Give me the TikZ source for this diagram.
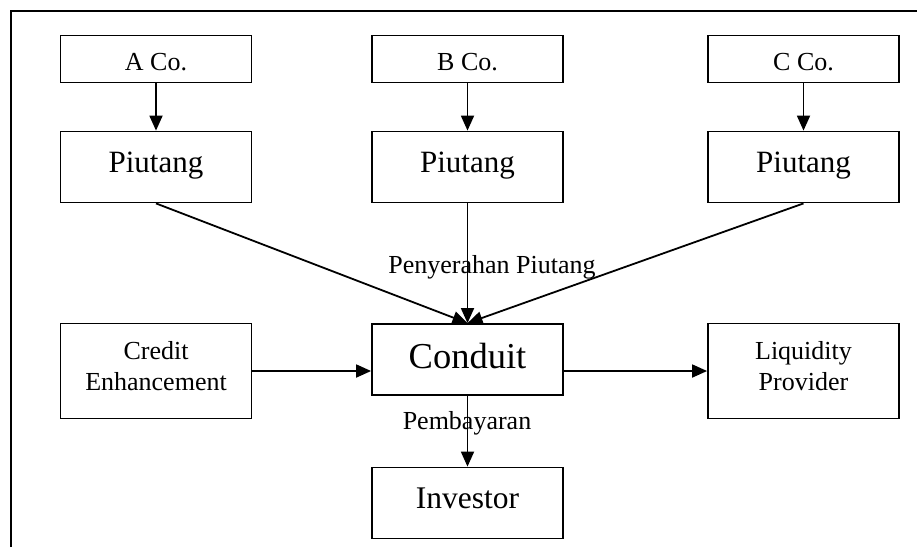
\documentclass[tikz,border=0pt]{standalone}
\usepackage{fontspec}
\setmainfont{Liberation Serif}
\usetikzlibrary{arrows.meta}

\begin{document}
\begin{tikzpicture}[x=1pt,y=-1pt,
    box/.style={draw,line width=1.8pt,minimum width=191pt,inner sep=0pt,align=center},
    cobox/.style={box,minimum height=47pt,font=\fontsize{26}{31}\selectfont,text height=23.4pt,text depth=0pt},
    piubox/.style={box,minimum height=71pt,font=\fontsize{31}{36}\selectfont,text height=22pt,text depth=12pt},
    sidebox/.style={box,minimum height=95pt,font=\fontsize{26}{31}\selectfont,text height=38pt,text depth=0pt},
    arr/.style={-{Triangle[length=15pt,width=13pt]},line width=1.8pt},
    lbl/.style={font=\fontsize{26}{31}\selectfont,inner sep=0pt}]
    \useasboundingbox (0,0) rectangle (917,547);
    % outer frame
    \draw[line width=1.8pt] (11,547) -- (11,11) -- (917,11);

    % companies
    \node[cobox] (coA) at (156,59) {A Co.};
    \node[cobox] (coB) at (467.5,59) {B Co.};
    \node[cobox] (coC) at (803.5,59) {C Co.};
    \node[piubox] (piuA) at (156,167) {Piutang};
    \node[piubox] (piuB) at (467.5,167) {Piutang};
    \node[piubox] (piuC) at (803.5,167) {Piutang};

    % middle row
    \node[sidebox] (credit) at (156,371) {Credit\\Enhancement};
    \node[box,minimum height=71pt,font=\fontsize{36.5}{42}\selectfont,text height=27pt,text depth=10pt] (conduit) at (467.5,359.5) {Conduit};
    \node[sidebox] (liquid) at (803.5,371) {Liquidity\\Provider};
    \node[box,minimum height=71pt,font=\fontsize{31.5}{36}\selectfont,text height=22pt,text depth=12pt] (investor) at (467.5,503) {Investor};

    \draw[arr] (coA) -- (piuA);
    \draw[arr] (coB) -- (piuB);
    \draw[arr] (coC) -- (piuC);
    \draw[arr] (piuA.south) -- (conduit.north);
    \draw[arr] (piuB.south) -- (conduit.north);
    \draw[arr] (piuC.south) -- (conduit.north);
    \draw[arr] (credit.east) -- (credit.east -| conduit.west);
    \draw[arr] (liquid.west -| conduit.east) -- (liquid.west);
    \draw[arr] (conduit.south) -- (investor.north);

    \node[lbl] (serah) at (492,267) {Penyerahan Piutang};
    \node[lbl] (bayar) at (467,423) {Pembayaran};
\end{tikzpicture}
\end{document}
